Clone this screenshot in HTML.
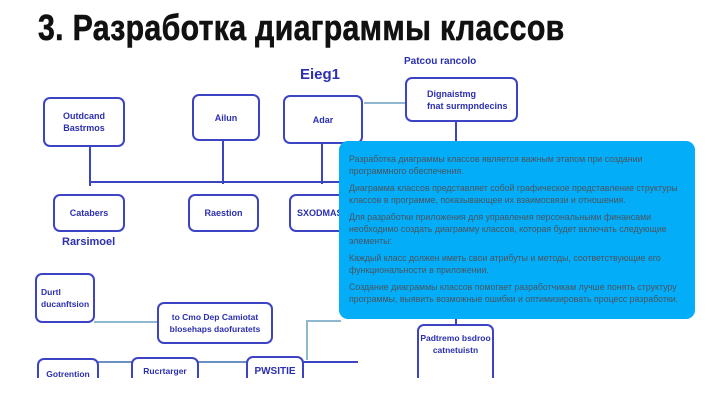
<!DOCTYPE html>
<html><head><meta charset="utf-8"><style>
*{margin:0;padding:0;box-sizing:border-box}
body{width:724px;height:407px;background:#fff;position:relative;overflow:hidden;font-family:"Liberation Sans","Noto Sans CJK SC",sans-serif}
.t{position:absolute;left:38px;top:7px;font-size:36px;font-weight:bold;color:#111;transform:scaleX(0.84);transform-origin:left top;white-space:nowrap;letter-spacing:0.4px;-webkit-text-stroke:0.6px #111}
.b{position:absolute;border:2px solid #3c44c4;border-radius:7px;background:#fff;color:#2b2fb0;font-size:9px;font-weight:bold;display:flex;align-items:center;justify-content:center;text-align:center;line-height:12px;white-space:nowrap}
.l{position:absolute;background:#3c44c4}
.g{position:absolute;background:#8fb8cf}
.p{position:absolute;left:339px;top:141px;width:356px;height:178px;background:#03adf7;border-radius:9px;padding:12px 8px 0 10px;color:#4a5560;font-size:8.8px;line-height:12px;white-space:nowrap}
.p div{margin-bottom:5px}
.lab{position:absolute;color:#2b2fb0;font-weight:bold}
</style></head><body>
<div class="t">3. Разработка диаграммы классов</div>
<div class="lab" style="left:300px;top:66px;font-size:15px">Eieg1</div>
<div class="lab" style="left:404px;top:56px;font-size:10px">Patcou rancolo</div>
<div class="l" style="left:89px;top:146px;width:2px;height:40px"></div>
<div class="l" style="left:222px;top:140px;width:2px;height:44px"></div>
<div class="l" style="left:321px;top:142px;width:2px;height:42px"></div>
<div class="l" style="left:89px;top:181px;width:252px;height:2px"></div>
<div class="l" style="left:455px;top:121px;width:2px;height:22px"></div>
<div class="g" style="left:364px;top:102px;width:42px;height:2px"></div>
<div class="b" style="left:43px;top:97px;width:82px;height:50px">Outdcand<br>Bastrmos</div>
<div class="b" style="left:192px;top:94px;width:68px;height:47px">Ailun</div>
<div class="b" style="left:283px;top:95px;width:80px;height:49px">Adar</div>
<div class="b" style="left:405px;top:77px;width:113px;height:45px;justify-content:flex-start;padding-left:20px;text-align:left">Dignaistmg<br>fnat surmpndecins</div>
<div class="b" style="left:53px;top:194px;width:72px;height:38px">Catabers</div>
<div class="b" style="left:188px;top:194px;width:71px;height:38px">Raestion</div>
<div class="b" style="left:289px;top:194px;width:60px;height:38px;justify-content:flex-start;padding-left:6px">SXODMAS</div>
<div class="lab" style="left:62px;top:236px;font-size:11px">Rarsimoel</div>
<div class="b" style="left:35px;top:273px;width:60px;height:50px;justify-content:flex-start;text-align:left;padding-left:4px;font-size:8.5px">Durtl<br>ducanftsion</div>
<div class="g" style="left:94px;top:321px;width:64px;height:2px"></div>
<div class="b" style="left:157px;top:302px;width:116px;height:42px;font-size:8.5px">to Cmo Dep Camiotat<br>blosehaps daofuratets</div>
<div class="l" style="left:98px;top:361px;width:150px;height:2px;background:#6c8fc4"></div>
<div class="l" style="left:302px;top:361px;width:56px;height:2px"></div>
<div class="g" style="left:306px;top:320px;width:35px;height:2px"></div>
<div class="g" style="left:306px;top:320px;width:2px;height:40px"></div>
<div class="b" style="left:37px;top:358px;width:62px;height:40px;align-items:flex-start;padding-top:8px;font-size:8.5px">Gotrention</div>
<div class="b" style="left:131px;top:357px;width:68px;height:40px;align-items:flex-start;padding-top:6px;font-size:8.5px">Rucrtarger</div>
<div class="b" style="left:246px;top:356px;width:58px;height:40px;align-items:flex-start;padding-top:8px;font-size:10px">PWSITIE</div>
<div class="l" style="left:455px;top:318px;width:2px;height:8px"></div>
<div class="b" style="left:417px;top:324px;width:77px;height:70px;align-items:flex-start;padding-top:6px;font-size:8.5px">Padtremo bsdroo<br>catnetuistn</div>
<div style="position:absolute;left:0;top:378px;width:724px;height:29px;background:#fff"></div>
<div class="p">
<div>Разработка диаграммы классов является важным этапом при создании<br>программного обеспечения.</div>
<div>Диаграмма классов представляет собой графическое представление структуры<br>классов в программе, показывающее их взаимосвязи и отношения.</div>
<div>Для разработки приложения для управления персональными финансами<br>необходимо создать диаграмму классов, которая будет включать следующие<br>элементы:</div>
<div>Каждый класс должен иметь свои атрибуты и методы, соответствующие его<br>функциональности в приложении.</div>
<div>Создание диаграммы классов помогает разработчикам лучше понять структуру<br>программы, выявить возможные ошибки и оптимизировать процесс разработки.</div>
</div>
</body></html>
